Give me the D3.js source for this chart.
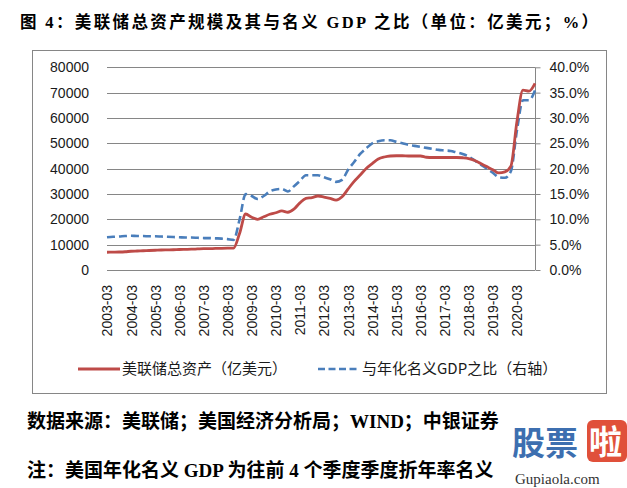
<!DOCTYPE html>
<html><head><meta charset="utf-8">
<script src="https://cdn.jsdelivr.net/npm/d3@7"></script>
<style>
html,body{margin:0;padding:0;background:#fff;}
svg{display:block;}
</style></head>
<body>
<svg id="c" width="627" height="488"></svg>
<script>
// ---- data ----
const years = [2003,2004,2005,2006,2007,2008,2009,2010,2011,2012,2013,2014,2015,2016,2017,2018,2019,2020];
const quarterMonths = ["03","06","09","12"];
const categories = [];
years.forEach(y => quarterMonths.forEach(m => categories.push(y + "-" + m)));
const tickLabels = years.map(y => y + "-03");

// Fed total assets (100 million USD), quarterly 2003-03 .. 2020-12
const fedAssets = [
  7000, 7050, 7100, 7200,
  7400, 7500, 7600, 7700,
  7800, 7900, 7950, 8000,
  8100, 8150, 8200, 8300,
  8400, 8450, 8500, 8550,
  8600, 8650, 14500, 22100,
  20800, 20000, 21000, 22000,
  22600, 23300, 22800, 24000,
  26500, 28300, 28600, 29200,
  28800, 28300, 27600, 28900,
  32000, 35000, 37500, 40100,
  42000, 43800, 44600, 45000,
  45100, 45100, 45000, 45000,
  45000, 44500, 44400, 44400,
  44400, 44400, 44400, 44300,
  44000, 43200, 42000, 40800,
  39600, 38300, 38700, 41000,
  58500, 71000, 70600, 73700
];
// Ratio to nominal annualized GDP (%), right axis
const ratioGDP = [
  6.45, 6.55, 6.6, 6.7,
  6.75, 6.7, 6.7, 6.65,
  6.65, 6.6, 6.55, 6.5,
  6.45, 6.4, 6.4, 6.35,
  6.3, 6.3, 6.25, 6.2,
  6.1, 5.95, 10.0, 15.0,
  14.6, 14.0, 14.6, 15.5,
  15.9, 16.0, 15.5, 16.5,
  17.6, 18.7, 18.7, 18.7,
  18.3, 17.9, 17.4, 17.8,
  19.8, 21.3, 22.9, 24.0,
  25.0, 25.4, 25.6, 25.6,
  25.3, 25.0, 24.7, 24.5,
  24.3, 24.1, 23.9, 23.7,
  23.6, 23.5, 23.2, 22.9,
  22.4, 21.6, 20.8, 20.0,
  19.2, 18.3, 18.2, 19.5,
  27.5, 33.5, 33.5, 35.4
];
const leftTicks = [0,10000,20000,30000,40000,50000,60000,70000,80000];
const rightTicks = [0,5,10,15,20,25,30,35,40];
const seriesNames = ["美联储总资产（亿美元）", "与年化名义GDP之比（右轴）"];
const titleText = "图 4：美联储总资产规模及其与名义 GDP 之比（单位：亿美元；%）";
const sourceText = ["数据来源：美联储；美国经济分析局；", "WIND", "；中银证券"];
const noteText = "注：美国年化名义 GDP 为往前 4 个季度季度折年率名义";

// ---- layout ----
const svg = d3.select("#c");
const L = 107, R = 535, T = 67.3, B = 270;
const red = "#BE4B48", blue = "#4A7EBB", grid = "#868686";
const latin = "'Liberation Sans', Arial, sans-serif";
const cjk = "'Noto Sans CJK SC', sans-serif";
const serif = "'Liberation Serif', 'Noto Sans CJK SC', serif";

const x = d3.scalePoint().domain(categories).range([L, R]);
const yL = d3.scaleLinear().domain([0, 80000]).range([B, T]);
const yR = d3.scaleLinear().domain([0, 40]).range([B, T]);

// title
svg.append("text").attr("x", 20).attr("y", 28)
  .attr("font-family", serif).attr("font-weight", "bold").attr("font-size", 16.5)
  .attr("textLength", 578).attr("lengthAdjust", "spacing")
  .attr("fill", "#000").text(titleText);

// chart box
svg.append("rect").attr("x", 32.5).attr("y", 50.5).attr("width", 574).attr("height", 343)
  .attr("fill", "none").attr("stroke", grid).attr("stroke-width", 1);

// gridlines
svg.append("g").selectAll("line").data(leftTicks).join("line")
  .attr("x1", L).attr("x2", R)
  .attr("y1", d => Math.round(yL(d)) + 0.5).attr("y2", d => Math.round(yL(d)) + 0.5)
  .attr("stroke", grid).attr("stroke-width", 1);

// left axis labels
const gl = svg.append("g").attr("transform", `translate(${L},0)`)
  .call(d3.axisLeft(yL).tickValues(leftTicks).tickSize(0).tickPadding(18).tickFormat(d3.format("d")));
gl.select(".domain").remove();
gl.selectAll("text").attr("font-family", latin).attr("font-size", 14).attr("fill", "#1a1a1a");

// right axis
const gr = svg.append("g").attr("transform", `translate(${R + 0.5},0)`)
  .call(d3.axisRight(yR).tickValues(rightTicks).tickSize(5).tickPadding(9).tickFormat(d => d.toFixed(1) + "%"));
gr.select(".domain").attr("stroke", grid).attr("d", `M0,${T}V${B}`);
gr.selectAll(".tick line").attr("stroke", grid);
gr.selectAll("text").attr("font-family", latin).attr("font-size", 14).attr("fill", "#1a1a1a");

// x axis labels
const gx = svg.append("g").attr("transform", `translate(0,${B})`)
  .call(d3.axisBottom(x).tickValues(tickLabels).tickSize(0));
gx.select(".domain").remove();
gx.selectAll("text")
  .attr("font-family", latin).attr("font-size", 14).attr("fill", "#1a1a1a")
  .attr("transform", "rotate(-90)")
  .attr("text-anchor", "end").attr("x", -15).attr("y", 0).attr("dy", "0.35em");

// lines
const lineL = d3.line().x((d, i) => x(categories[i])).y(d => yL(d)).curve(d3.curveMonotoneX);
const lineR = d3.line().x((d, i) => x(categories[i])).y(d => yR(d)).curve(d3.curveMonotoneX);
svg.append("path").datum(ratioGDP).attr("d", lineR)
  .attr("fill", "none").attr("stroke", blue).attr("stroke-width", 2.6)
  .attr("stroke-dasharray", "8,4");
svg.append("path").datum(fedAssets).attr("d", lineL)
  .attr("fill", "none").attr("stroke", red).attr("stroke-width", 2.8)
  .attr("stroke-linejoin", "round");

// legend
const ly = 369;
svg.append("line").attr("x1", 78).attr("x2", 120).attr("y1", ly).attr("y2", ly)
  .attr("stroke", red).attr("stroke-width", 2.8);
svg.append("text").attr("x", 122).attr("y", ly).attr("dy", "0.35em")
  .attr("font-family", cjk).attr("font-size", 15).attr("fill", "#1a1a1a").text(seriesNames[0]);
svg.append("line").attr("x1", 318).attr("x2", 360).attr("y1", ly).attr("y2", ly)
  .attr("stroke", blue).attr("stroke-width", 2.6).attr("stroke-dasharray", "7,3.5");
svg.append("text").attr("x", 362).attr("y", ly).attr("dy", "0.35em")
  .attr("font-family", cjk).attr("font-size", 15).attr("fill", "#1a1a1a").text(seriesNames[1]);

// source line
const src = svg.append("text").attr("x", 27).attr("y", 428)
  .attr("font-family", serif).attr("font-weight", "bold").attr("font-size", 19).attr("fill", "#000");
src.append("tspan").text(sourceText[0]);
src.append("tspan").attr("font-family", "'Liberation Serif', serif").text(sourceText[1]);
src.append("tspan").text(sourceText[2]);

// note line
svg.append("text").attr("x", 27).attr("y", 477)
  .attr("font-family", serif).attr("font-weight", "bold").attr("font-size", 19).attr("fill", "#000")
  .text(noteText);

// watermark
const wm = svg.append("g");
wm.append("text").attr("x", 512).attr("y", 455).attr("font-family", cjk).attr("font-weight", "bold")
  .attr("font-size", 33).attr("fill", "#3d6fb0").text("股票");
wm.append("rect").attr("x", 587).attr("y", 420).attr("width", 40).attr("height", 42).attr("rx", 6).attr("fill", "#e0503a");
wm.append("text").attr("x", 589).attr("y", 454).attr("font-family", cjk).attr("font-weight", "bold")
  .attr("font-size", 33).attr("fill", "#fff").text("啦");
wm.append("text").attr("x", 515).attr("y", 484).attr("font-family", serif)
  .attr("font-size", 15).attr("fill", "#333").text("Gupiaola.com");
</script>
</body></html>
